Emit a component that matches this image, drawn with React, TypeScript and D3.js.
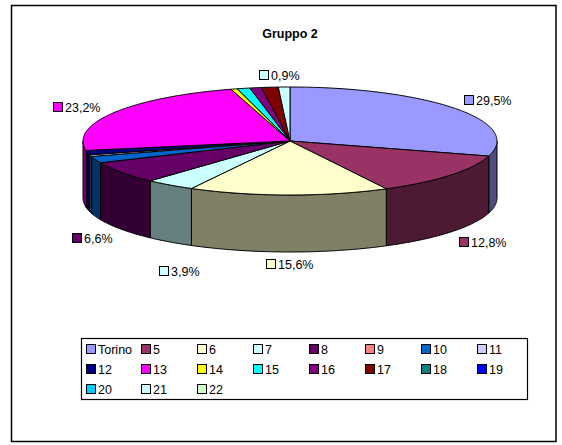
import React from "react";
import * as d3 from "d3";

const categories = ["Torino","5","6","7","8","9","10","11","12","13","14","15","16","17","18","19","20","21","22"];
const values = [29.5,12.8,15.6,3.9,6.6,0,2.0,0.5,1.3,23.2,0.5,1.0,0.9,1.3,0,0,0,0.9,0];
const colors = ["#9999FF","#993366","#FFFFCC","#CCFFFF","#660066","#FF8080","#0066CC","#CCCCFF","#000080","#FF00FF","#FFFF00","#00FFFF","#800080","#800000","#008080","#0000FF","#00CCFF","#CCFFFF","#CCFFCC"];
const sliceLabels = [
  { cat: "Torino", text: "29,5%", x: 464, y: 100 },
  { cat: "5", text: "12,8%", x: 459, y: 242 },
  { cat: "6", text: "15,6%", x: 266, y: 264 },
  { cat: "7", text: "3,9%", x: 159, y: 271 },
  { cat: "8", text: "6,6%", x: 72, y: 238 },
  { cat: "13", text: "23,2%", x: 53, y: 107 },
  { cat: "21", text: "0,9%", x: 259, y: 75 },
];
const legendColumns = [86,141,197,253,309,365,421,477];
const legendRows = [349,369,389];
const title = "Gruppo 2";

const FONT = "'Liberation Sans', Arial, sans-serif";
const cx = 290, cy = 141, rx = 207, ry = 54, depth = 57;

const px = d3.scaleLinear().domain([-1, 1]).range([cx - rx, cx + rx]);
const py = d3.scaleLinear().domain([-1, 1]).range([cy - ry, cy + ry]);
const pie = d3.pie<number>().sort(null).value((d) => d);
const arcs = pie(values);
const dark = (c: string) => { const r = d3.rgb(c); return d3.rgb(r.r * 0.5, r.g * 0.5, r.b * 0.5).formatHex(); };

const sample = (a0: number, a1: number) => {
  const n = Math.max(2, Math.ceil(Math.abs(a1 - a0) / 0.01));
  return d3.range(n + 1).map((i) => a0 + ((a1 - a0) * i) / n);
};
// pie angle: 0 at 12 o'clock, clockwise
const pt = (a: number, dy = 0): [number, number] => [px(Math.sin(a)), py(-Math.cos(a)) + dy];
const line = d3.line<[number, number]>();

const topPath = (a0: number, a1: number) =>
  line([[cx, cy], ...sample(a0, a1).map((a) => pt(a))])! + "Z";
const wallPath = (a0: number, a1: number) => {
  const s = Math.max(a0, Math.PI / 2), e = Math.min(a1, (3 * Math.PI) / 2);
  if (e <= s) return null;
  const as = sample(s, e);
  return line([...as.map((a) => pt(a)), ...as.slice().reverse().map((a) => pt(a, depth))])! + "Z";
};

export default function App() {
  return (
    <svg width={562} height={445} style={{ position: "absolute", left: 0, top: 0, background: "#fff" }} fontFamily={FONT}>
      <rect x={11.5} y={5.5} width={544.5} height={436} fill="#fff" stroke="#000" strokeWidth={1.5} />
      <text x={290} y={38} textAnchor="middle" fontSize={12.5} fontWeight="bold">{title}</text>
      {arcs.map((d, i) => {
        const w = wallPath(d.startAngle, d.endAngle);
        return w && d.endAngle > d.startAngle ? <path key={i} d={w} fill={dark(colors[i])} stroke="#000" strokeWidth={1} strokeLinejoin="round" /> : null;
      })}
      {arcs.map((d, i) => d.endAngle > d.startAngle ? (
        <path key={i} d={topPath(d.startAngle, d.endAngle)} fill={colors[i]} stroke="#000" strokeWidth={1} strokeLinejoin="round" />
      ) : null)}
      {sliceLabels.map((l) => (
        <g key={l.cat}>
          <rect x={l.x + 0.5} y={l.y - 4.5} width={9} height={9} fill={colors[categories.indexOf(l.cat)]} stroke="#000" strokeWidth={1} />
          <text x={l.x + 12} y={l.y + 4.5} fontSize={12.5} fill="#000">{l.text}</text>
        </g>
      ))}
      <rect x={81.5} y={338.5} width={446} height={61} fill="#fff" stroke="#000" strokeWidth={1.2} />
      {categories.map((c, i) => {
        const col = i % legendColumns.length, row = Math.floor(i / legendColumns.length);
        const lx = legendColumns[col], ly = legendRows[row];
        return (
          <g key={c}>
            <rect x={lx + 0.5} y={ly - 4.5} width={9} height={9} fill={colors[i]} stroke="#000" strokeWidth={1} />
            <text x={lx + 12} y={ly + 4.5} fontSize={12.5} fill="#000">{c}</text>
          </g>
        );
      })}
    </svg>
  );
}
